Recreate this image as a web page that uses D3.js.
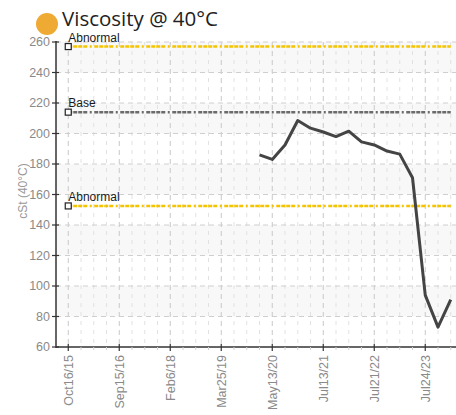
<!DOCTYPE html>
<html lang="en">
<head>
<meta charset="UTF-8">
<title>Viscosity @ 40°C</title>
<script src="https://cdn.jsdelivr.net/npm/d3@7/dist/d3.min.js"></script>
<style>
  body { margin: 0; background: #fff; }
  svg text { font-family: "Liberation Sans", Arial, sans-serif; }
</style>
</head>
<body>
<svg id="chart" width="456" height="415"></svg>
<script>
// one entry per sample, the first 15 samples have no viscosity result
const viscosity = [null, null, null, null, null, null, null, null, null, null,
    null, null, null, null, null,
    186, 183, 192.5, 208.5, 203.5, 201, 198, 201.5, 194.5, 192.5,
    188.5, 186.5, 171, 94, 73, 91];
// labels shown on every 4th sample
const tickLabels = ["Oct16/15", "Sep15/16", "Feb6/18", "Mar25/19",
    "May13/20", "Jul13/21", "Jul21/22", "Jul24/23"];
const labelEvery = 4;
const yTicks = [60, 80, 100, 120, 140, 160, 180, 200, 220, 240, 260];
const limitNames = ["Abnormal", "Base", "Abnormal"];
const limitValues = [257, 214, 152.5];
const limitColors = ['#f5c400', '#6b6b6b', '#f5c400'];

let svg = d3.select('#chart');

let x = d3.scalePoint()
    .domain(d3.range(viscosity.length))
    .range([55.5, 463.5])
    .padding(1);
let y = d3.scaleLinear().domain([60, 260]).range([347, 42]);

let left = 56, right = 456;

// alternating bands
svg.append('g').selectAll('rect')
    .data(yTicks.slice(0, -1).filter((d, i) => (yTicks.length - 2 - i) % 2 === 0))
    .enter().append('rect')
    .attr('x', left).attr('width', right - left)
    .attr('y', d => y(d + 20)).attr('height', d => y(d) - y(d + 20))
    .attr('fill', '#f8f8f8');

// vertical grid - minor then major
svg.append('g').selectAll('line')
    .data(x.domain().filter(i => i % labelEvery !== 0))
    .enter().append('line')
    .attr('x1', d => x(d)).attr('x2', d => x(d))
    .attr('y1', 42).attr('y2', 347)
    .attr('stroke', '#e2e2e2').attr('stroke-dasharray', '4,5');
svg.append('g').selectAll('line')
    .data(x.domain().filter(i => i % labelEvery === 0))
    .enter().append('line')
    .attr('x1', d => x(d)).attr('x2', d => x(d))
    .attr('y1', 42).attr('y2', 347)
    .attr('stroke', '#c8c8c8').attr('stroke-dasharray', '5,4');

// horizontal grid
svg.append('g').selectAll('line')
    .data(yTicks.slice(1))
    .enter().append('line')
    .attr('x1', left).attr('x2', right)
    .attr('y1', d => y(d)).attr('y2', d => y(d))
    .attr('stroke', '#cfcfcf').attr('stroke-dasharray', '5,4');

// limit lines
let lim = svg.append('g').selectAll('g')
    .data(limitValues)
    .enter().append('g');
lim.append('line')
    .attr('x1', x(0)).attr('x2', x(viscosity.length - 1))
    .attr('y1', d => y(d)).attr('y2', d => y(d))
    .attr('stroke', (d, i) => limitColors[i])
    .attr('stroke-width', 2.5)
    .attr('stroke-dasharray', '4,1,4,1,4,1,4,2.5,2,2.5');
lim.append('rect')
    .attr('x', x(0) - 3).attr('y', d => y(d) - 3)
    .attr('width', 6).attr('height', 6)
    .attr('fill', '#fff').attr('stroke', '#222').attr('stroke-width', 1.2);
lim.append('text')
    .attr('x', x(0)).attr('y', d => y(d) - 5)
    .attr('font-size', 12).attr('fill', '#1a1a1a')
    .text((d, i) => limitNames[i]);

// viscosity line
let line = d3.line()
    .defined(d => d != null)
    .x((d, i) => x(i))
    .y(d => y(d));
svg.append('path')
    .datum(viscosity)
    .attr('d', line)
    .attr('fill', 'none')
    .attr('stroke', '#444')
    .attr('stroke-width', 3)
    .attr('stroke-linejoin', 'round');

// y axis
let yAxis = svg.append('g');
yAxis.append('line')
    .attr('x1', left).attr('x2', left).attr('y1', 41).attr('y2', 348)
    .attr('stroke', '#333').attr('stroke-width', 1.5);
yAxis.selectAll('.tk').data(yTicks).enter().append('line')
    .attr('x1', left - 4).attr('x2', left + 3)
    .attr('y1', d => y(d)).attr('y2', d => y(d))
    .attr('stroke', '#333').attr('stroke-width', 1.2);
yAxis.selectAll('text').data(yTicks).enter().append('text')
    .attr('x', 50).attr('y', d => y(d)).attr('dy', '0.35em')
    .attr('text-anchor', 'end').attr('font-size', 12.5).attr('fill', '#8a8a8a')
    .text(d => d);

// x axis
let xAxis = svg.append('g');
xAxis.append('line')
    .attr('x1', left).attr('x2', right).attr('y1', 347).attr('y2', 347)
    .attr('stroke', '#333').attr('stroke-width', 1.5);
xAxis.selectAll('.minor').data(x.domain().filter(i => i % labelEvery !== 0))
    .enter().append('line')
    .attr('x1', d => x(d)).attr('x2', d => x(d))
    .attr('y1', 347).attr('y2', 350)
    .attr('stroke', '#d0d0d0');
xAxis.selectAll('.major').data(tickLabels).enter().append('line')
    .attr('x1', (d, i) => x(i * labelEvery)).attr('x2', (d, i) => x(i * labelEvery))
    .attr('y1', 344).attr('y2', 351)
    .attr('stroke', '#333').attr('stroke-width', 1.2);
xAxis.selectAll('text').data(tickLabels).enter().append('text')
    .attr('transform', (d, i) => `translate(${x(i * labelEvery)},355) rotate(-90)`)
    .attr('dy', '0.35em')
    .attr('text-anchor', 'end').attr('font-size', 12.5).attr('fill', '#8a8a8a')
    .text(d => d);

// axis title
svg.append('text')
    .attr('transform', `translate(27,191) rotate(-90)`)
    .attr('text-anchor', 'middle').attr('font-size', 12).attr('fill', '#999')
    .text('cSt (40°C)');

// header
svg.append('circle').attr('cx', 47).attr('cy', 24).attr('r', 11).attr('fill', '#eeaa33');
svg.append('text')
    .attr('x', 62).attr('y', 26)
    .attr('font-size', 20.5).attr('fill', '#222')
    .style('font-family', '"Open Sans", sans-serif')
    .text('Viscosity @ 40°C');
</script>
</body>
</html>
